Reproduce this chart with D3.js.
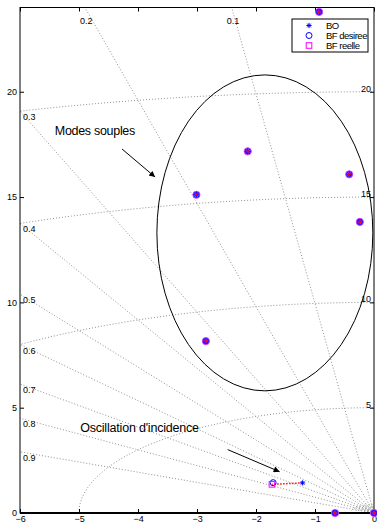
<!DOCTYPE html>
<html>
<head>
<meta charset="utf-8">
<script src="https://cdn.jsdelivr.net/npm/d3@7"></script>
<style>
  body { margin: 0; background: #fff; }
  svg { display: block; font-family: "Liberation Sans", Arial, sans-serif; }
</style>
</head>
<body>
<svg id="chart" width="377" height="527"></svg>
<script>
// axis ticks
var xTicks = [-6, -5, -4, -3, -2, -1, 0];
var yTicks = [0, 5, 10, 15, 20];

// sgrid: damping ratios and natural frequencies
var zetas = [0.1, 0.2, 0.3, 0.4, 0.5, 0.6, 0.7, 0.8, 0.9];
var wns = [5, 10, 15, 20];
var smallWns = [0.08, 0.14, 0.2, 0.26, 0.32, 0.4];

// flexible modes (BO, BF desiree and BF reelle coincide)
var modeRe = [-0.93, -2.14, -0.42, -3.01, -0.24, -2.85];
var modeIm = [23.79, 17.17, 16.08, 15.11, 13.82, 8.16];

// real axis poles
var realRe = [-0.66, 0];

// incidence oscillation
var boRe = [-1.21], boIm = [1.43];
var bfdRe = [-1.71], bfdIm = [1.44];
var bfrRe = [-1.73], bfrIm = [1.36];

var legendLabels = ["BO", "BF desiree", "BF reelle"];

var svg = d3.select("#chart");
var pL = 20, pR = 374, pT = 7.5, pB = 513;

var x = d3.scaleLinear().domain([-6, 0]).range([pL, pR]);
var y = d3.scaleLinear().domain([0, 24]).range([pB, pT]);

var defs = svg.append("defs");
defs.append("clipPath").attr("id", "clip")
  .append("rect").attr("x", pL).attr("y", pT)
  .attr("width", pR - pL).attr("height", pB - pT);

defs.append("marker")
  .attr("id", "arrow").attr("viewBox", "0 0 10 10")
  .attr("refX", 10).attr("refY", 5)
  .attr("markerWidth", 9).attr("markerHeight", 6)
  .attr("markerUnits", "userSpaceOnUse")
  .attr("orient", "auto")
  .append("path").attr("d", "M0,0 L10,5 L0,10 z").attr("fill", "#000");

var grid = svg.append("g").attr("clip-path", "url(#clip)");
var gridColor = "#909090";

// damping lines
grid.selectAll("line.zeta")
  .data(zetas)
  .enter().append("line")
    .attr("class", "zeta")
    .attr("x1", x(0)).attr("y1", y(0))
    .attr("x2", function(z) { return x(-z * 40); })
    .attr("y2", function(z) { return y(Math.sqrt(1 - z * z) * 40); })
    .attr("stroke", gridColor).attr("stroke-width", 1)
    .attr("stroke-dasharray", "1,2");

// natural frequency arcs
var angles = d3.range(0, 91).map(function(d) { return d * Math.PI / 180; });
var arc = function(r) {
  return d3.line()
    .x(function(a) { return x(-r * Math.cos(a)); })
    .y(function(a) { return y(r * Math.sin(a)); })(angles);
};
grid.selectAll("path.wn")
  .data(wns.concat(smallWns))
  .enter().append("path")
    .attr("class", "wn")
    .attr("d", arc)
    .attr("fill", "none")
    .attr("stroke", gridColor).attr("stroke-width", 1)
    .attr("stroke-dasharray", "1,2");

// damping labels
svg.selectAll("text.zl")
  .data(zetas)
  .enter().append("text")
    .attr("class", "zl")
    .attr("font-size", 9)
    .attr("x", function(z) {
      var s = Math.sqrt(1 - z * z);
      var xe = -24 * z / s;
      return xe > -6 ? x(xe) - 5 : pL + 3;
    })
    .attr("y", function(z) {
      var s = Math.sqrt(1 - z * z);
      var xe = -24 * z / s;
      return xe > -6 ? pT + 16 : y(6 * s / z) + 9;
    })
    .text(function(z) { return z.toFixed(1); });

// frequency labels
svg.selectAll("text.wl")
  .data(wns)
  .enter().append("text")
    .attr("class", "wl")
    .attr("font-size", 9)
    .attr("text-anchor", "end")
    .attr("x", pR - 3)
    .attr("y", function(w) { return y(w); })
    .text(function(w) { return w; });

// axes box
svg.append("rect")
  .attr("x", pL).attr("y", pT)
  .attr("width", pR - pL).attr("height", pB - pT)
  .attr("fill", "none").attr("stroke", "#000").attr("stroke-width", 1);
svg.append("line")
  .attr("x1", pL).attr("x2", pR).attr("y1", pB).attr("y2", pB)
  .attr("stroke", "#000").attr("stroke-width", 2);

svg.append("g").attr("transform", "translate(0," + pB + ")")
  .call(d3.axisBottom(x).tickValues(xTicks).tickSizeInner(-4).tickSizeOuter(0).tickPadding(3)
    .tickFormat(function(d) { return d === 0 ? "0" : "\u2212" + Math.abs(d); }));
svg.append("g").attr("transform", "translate(0," + pT + ")")
  .call(d3.axisTop(x).tickValues(xTicks).tickSizeInner(-4).tickSizeOuter(0).tickFormat(""));
svg.append("g").attr("transform", "translate(" + pL + ",0)")
  .call(d3.axisLeft(y).tickValues(yTicks).tickSizeInner(-4).tickSizeOuter(0).tickPadding(3));
svg.append("g").attr("transform", "translate(" + pR + ",0)")
  .call(d3.axisRight(y).tickValues(yTicks).tickSizeInner(-4).tickSizeOuter(0).tickFormat(""));
svg.selectAll(".domain").remove();
svg.selectAll(".tick text").attr("font-size", 9).attr("font-family", "Liberation Sans, Arial, sans-serif").attr("fill", "#000");
svg.selectAll(".tick line").attr("stroke", "#000");

// ellipse around flexible modes
svg.append("ellipse")
  .attr("cx", x(-1.85)).attr("cy", y(13.3))
  .attr("rx", x(1.83) - x(0)).attr("ry", y(0) - y(7.5))
  .attr("fill", "none").attr("stroke", "#000").attr("stroke-width", 1);

// annotations
svg.append("text").attr("x", x(-5.41)).attr("y", y(18.14) + 4)
  .attr("font-size", 12.5).attr("letter-spacing", -0.3).text("Modes souples");
svg.append("line")
  .attr("x1", x(-4.27)).attr("y1", y(17.28)).attr("x2", x(-3.71)).attr("y2", y(15.95))
  .attr("stroke", "#000").attr("marker-end", "url(#arrow)");
svg.append("text").attr("x", x(-4.98)).attr("y", y(4.02) + 4)
  .attr("font-size", 12.5).attr("letter-spacing", -0.2).text("Oscillation d'incidence");
svg.append("line")
  .attr("x1", x(-2.48)).attr("y1", y(3.01)).attr("x2", x(-1.60)).attr("y2", y(1.96))
  .attr("stroke", "#000").attr("marker-end", "url(#arrow)");

// markers
var blue = "#0000ff", magenta = "#ff00ff", red = "#ff0000";
function star(g, px, py) {
  var r = 2.6;
  g.append("path")
    .attr("d", "M" + (px - r) + "," + py + "h" + 2 * r +
               "M" + px + "," + (py - r) + "v" + 2 * r +
               "M" + (px - r * 0.7) + "," + (py - r * 0.7) + "l" + 1.4 * r + "," + 1.4 * r +
               "M" + (px - r * 0.7) + "," + (py + r * 0.7) + "l" + 1.4 * r + "," + (-1.4 * r))
    .attr("stroke", blue).attr("stroke-width", 1);
}
function circ(g, px, py) {
  g.append("circle").attr("cx", px).attr("cy", py).attr("r", 3)
    .attr("fill", "none").attr("stroke", blue).attr("stroke-width", 1);
}
function square(g, px, py) {
  g.append("rect").attr("x", px - 2.8).attr("y", py - 2.8).attr("width", 5.6).attr("height", 5.6)
    .attr("fill", "none").attr("stroke", magenta).attr("stroke-width", 1);
}

var marks = svg.append("g");
var allRe = modeRe.concat(realRe);
var allIm = modeIm.concat(realRe.map(function() { return 0; }));
allRe.forEach(function(re, i) {
  var px = x(re), py = y(allIm[i]);
  marks.append("circle").attr("cx", px).attr("cy", py).attr("r", 3.6).attr("fill", "#c050ff");
  circ(marks, px, py);
  star(marks, px, py);
  marks.append("circle").attr("cx", px).attr("cy", py).attr("r", 3.6)
    .attr("fill", "none").attr("stroke", "#d040ff").attr("stroke-width", 0.9);
  marks.append("circle").attr("cx", px).attr("cy", py).attr("r", 1.4).attr("fill", red);
});

// incidence: BO -> BF link
marks.append("line")
  .attr("x1", x(boRe[0])).attr("y1", y(boIm[0]))
  .attr("x2", x(bfrRe[0])).attr("y2", y(bfrIm[0]))
  .attr("stroke", red).attr("stroke-width", 1.5).attr("stroke-dasharray", "1.5,1.5");
star(marks, x(boRe[0]), y(boIm[0]));
circ(marks, x(bfdRe[0]), y(bfdIm[0]));
square(marks, x(bfrRe[0]), y(bfrIm[0]));

// legend
var lg = svg.append("g").attr("transform", "translate(292,19)");
lg.append("rect").attr("width", 76).attr("height", 33)
  .attr("fill", "#fff").attr("stroke", "#000").attr("stroke-width", 1);
var drawers = [star, circ, square];
legendLabels.forEach(function(lab, i) {
  var ly = 6.5 + i * 10;
  drawers[i](lg, 17, ly);
  lg.append("text").attr("x", 34).attr("y", ly + 3.5)
    .attr("font-size", 9.5).attr("letter-spacing", -0.5).text(lab);
});
</script>
</body>
</html>
